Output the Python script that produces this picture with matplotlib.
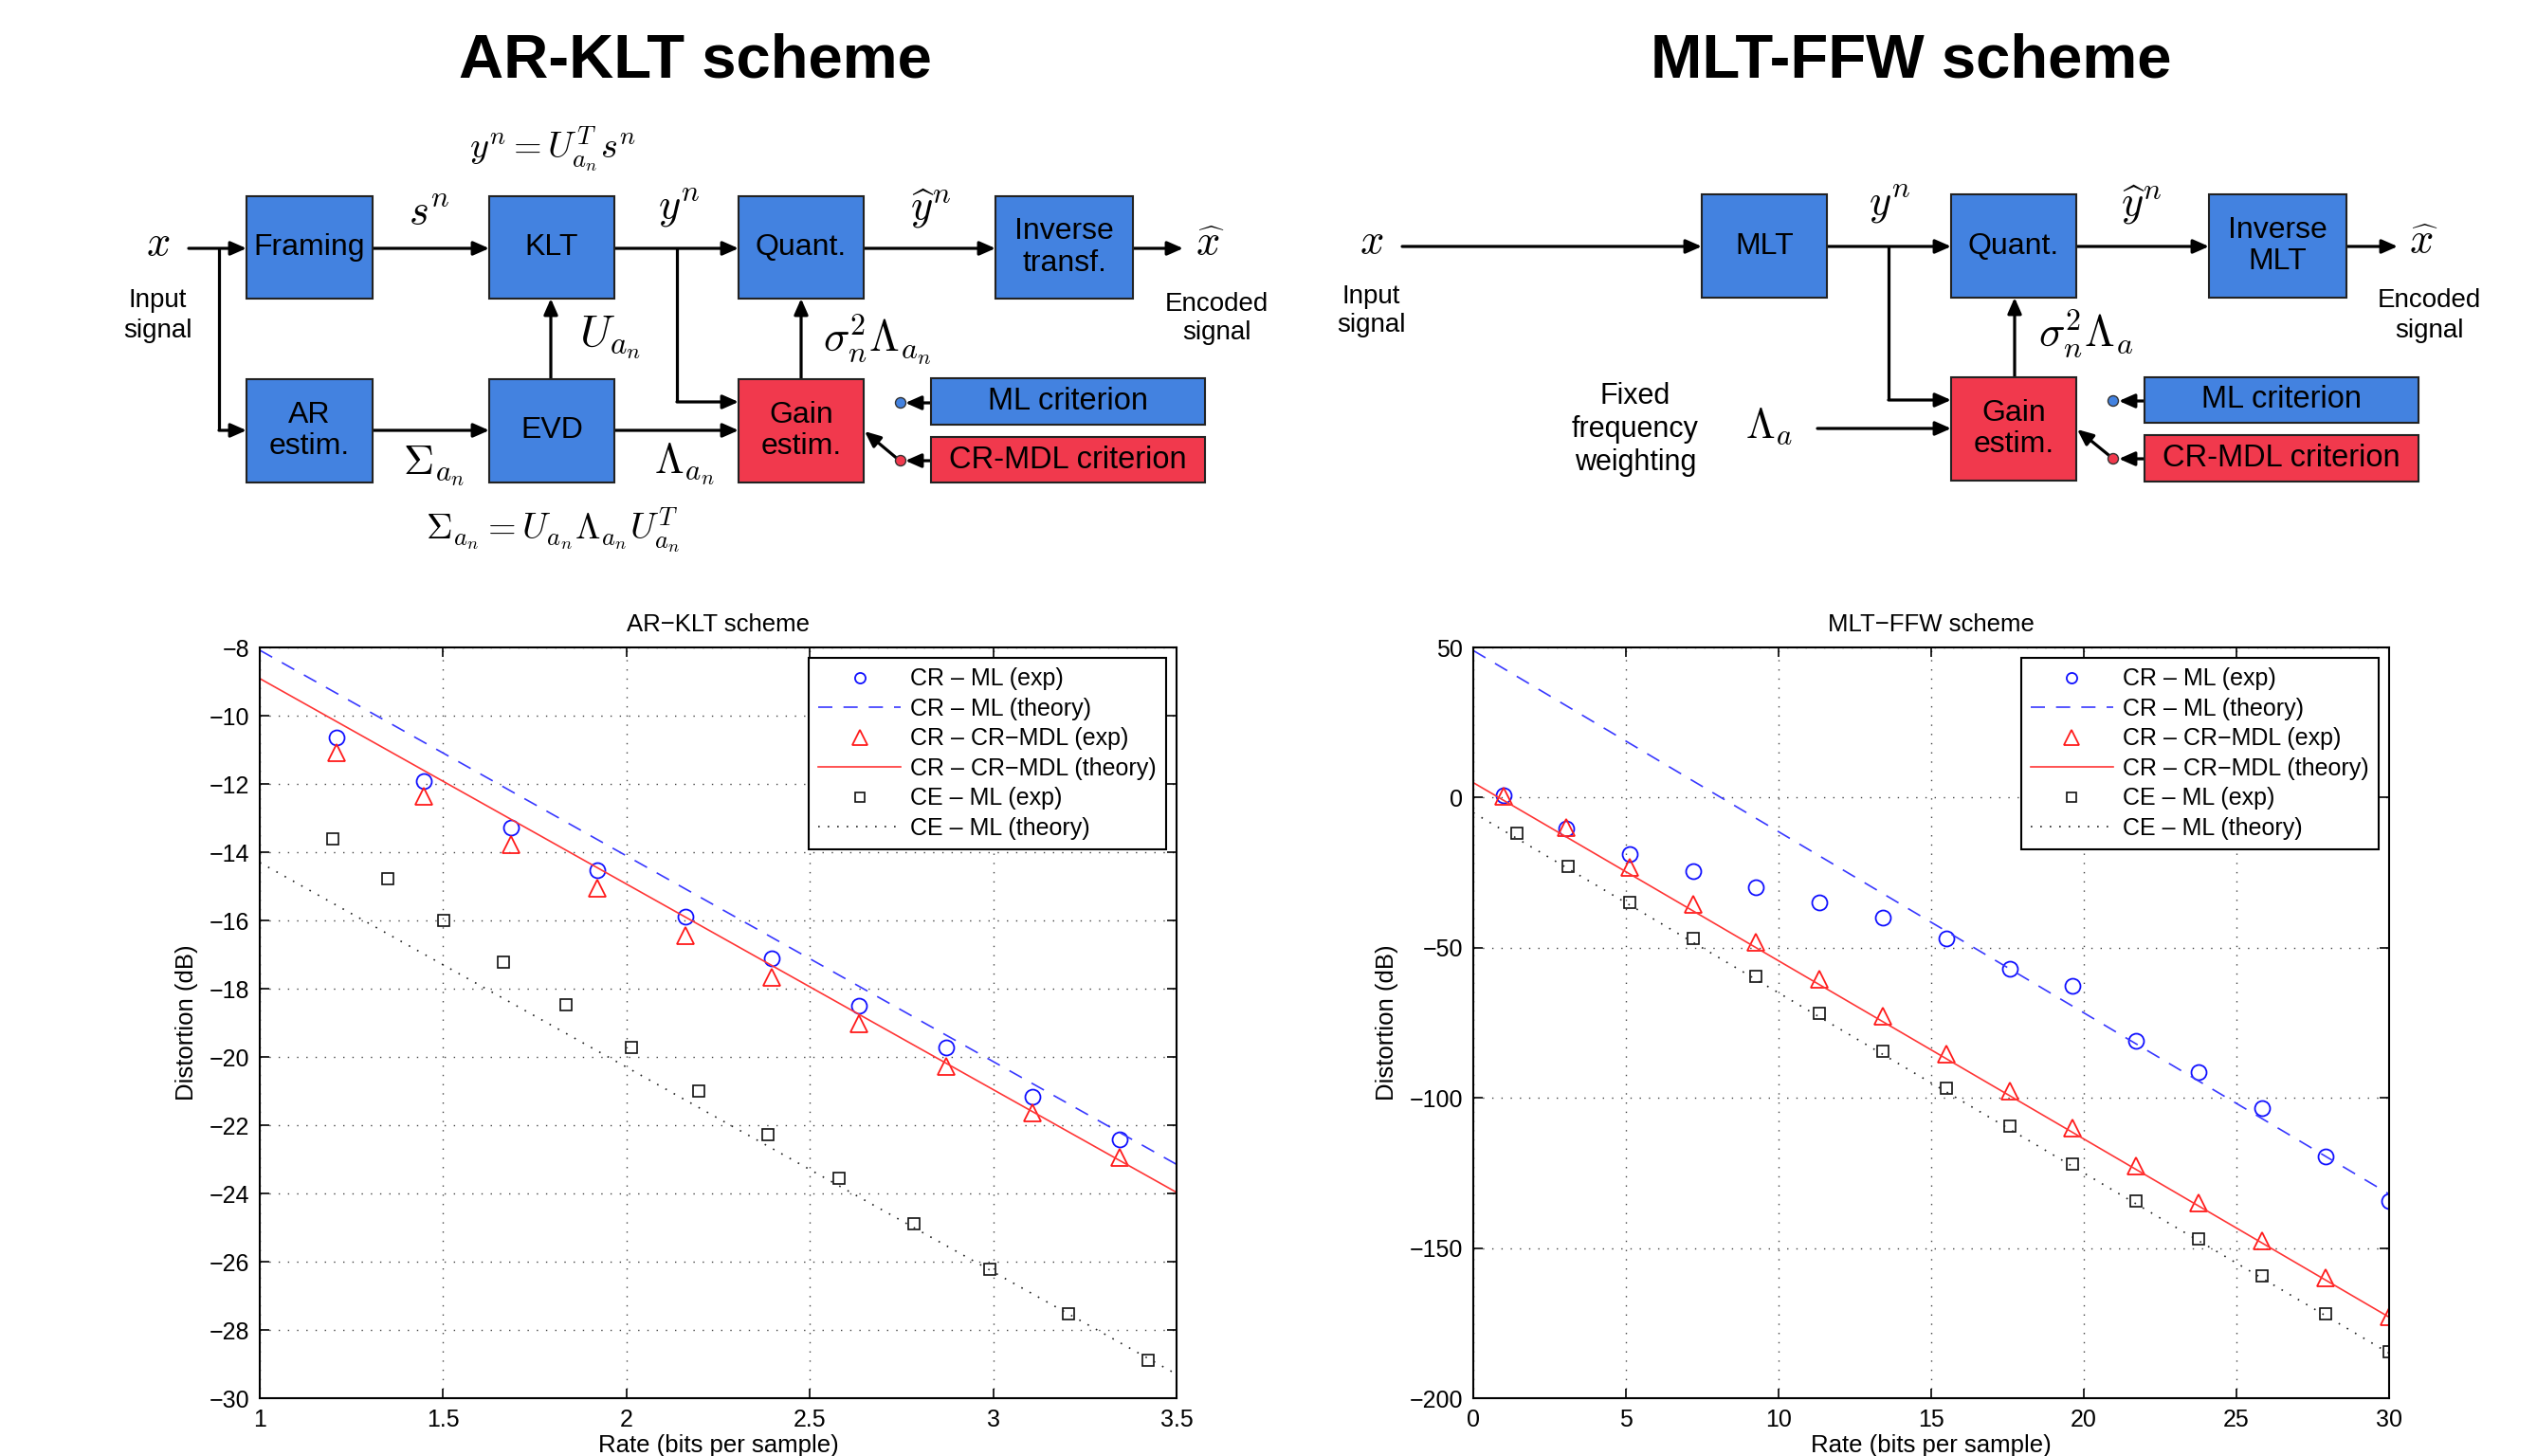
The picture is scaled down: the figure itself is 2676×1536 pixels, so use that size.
import matplotlib
matplotlib.use("Agg")
import matplotlib.pyplot as plt
from matplotlib.patches import Rectangle, Circle
from matplotlib.lines import Line2D
from matplotlib.ticker import FormatStrFormatter

plt.rcParams['font.family'] = ['Liberation Sans', 'DejaVu Sans']
plt.rcParams['mathtext.fontset'] = 'cm'

# ---- data ----
# AR-KLT scheme
klt_rate_cr = [1.21, 1.447, 1.684, 1.921, 2.16, 2.397, 2.634, 2.871, 3.108, 3.345]
klt_crml_exp = [-10.65, -11.91, -13.28, -14.54, -15.89, -17.10, -18.49, -19.73, -21.17, -22.41]
klt_crmdl_exp = [-11.08, -12.37, -13.77, -15.05, -16.45, -17.66, -19.03, -20.28, -21.64, -22.93]
klt_rate_ce = [1.20, 1.348, 1.502, 1.665, 1.834, 2.012, 2.197, 2.385, 2.58, 2.784, 2.99, 3.206, 3.421]
klt_ceml_exp = [-13.60, -14.78, -15.99, -17.23, -18.48, -19.72, -20.99, -22.27, -23.56, -24.88, -26.21, -27.53, -28.89]
klt_rate_th = [1.0, 3.5]
klt_crml_th = [-8.08, -23.15]
klt_crmdl_th = [-8.91, -23.97]
klt_ceml_th = [-14.3, -29.3]

# MLT-FFW scheme
mlt_rate_cr = [0.98, 3.05, 5.12, 7.2, 9.27, 11.34, 13.43, 15.5, 17.57, 19.64, 21.7, 23.77, 25.84, 27.91, 30.0]
mlt_crml_exp = [0.7, -10.3, -18.8, -24.6, -29.7, -34.8, -39.9, -47.0, -57.0, -62.7, -81.0, -91.3, -103.4, -119.6, -134.2]
mlt_crmdl_exp = [0.5, -10.0, -23.3, -35.5, -48.0, -60.5, -72.8, -85.3, -97.6, -110.0, -122.6, -135.0, -147.5, -160.0, -172.8]
mlt_rate_ce = [1.44, 3.11, 5.14, 7.2, 9.27, 11.34, 13.43, 15.5, 17.57, 19.64, 21.7, 23.77, 25.84, 27.91, 30.0]
mlt_ceml_exp = [-12.0, -22.8, -34.8, -47.0, -59.4, -71.9, -84.4, -96.9, -109.4, -121.9, -134.4, -146.9, -159.4, -171.9, -184.4]
mlt_rate_th = [0.0, 30.0]
mlt_crml_th = [49.0, -132.0]
mlt_crmdl_th = [5.0, -173.0]
mlt_ceml_th = [-5.0, -185.0]

legend_labels = ['CR \u2013 ML (exp)', 'CR \u2013 ML (theory)',
                 'CR \u2013 CR\u2212MDL (exp)', 'CR \u2013 CR\u2212MDL (theory)',
                 'CE \u2013 ML (exp)', 'CE \u2013 ML (theory)']

BLUE = '#4382e0'
RED = '#f1394d'
C_BLUE = '#1010ff'
C_BLUE_L = '#3838ff'
C_RED = '#ff1a1a'
C_RED_L = '#ff3535'
C_BLACK = '#111111'

fig = plt.figure(figsize=(26.76, 15.36), dpi=100)

# ---- block diagrams, drawn in pixel coordinates ----
dg = fig.add_axes([0, 0, 1, 1])
dg.set_xlim(0, 2676)
dg.set_ylim(1536, 0)
dg.axis('off')


def box(x0, x1, y0, y1, color, text, fs=23):
    dg.add_patch(Rectangle((x0, y0), x1 - x0, y1 - y0, facecolor=color,
                           edgecolor='#222222', lw=1.5, zorder=2))
    dg.text((x0 + x1) / 2, (y0 + y1) / 2, text, ha='center', va='center',
            fontsize=fs, linespacing=1.15, zorder=3)


def arrow(pts, lw=2.3):
    if len(pts) > 2:
        xs = [p[0] for p in pts[:-1]]
        ys = [p[1] for p in pts[:-1]]
        dg.plot(xs, ys, color='black', lw=lw, solid_capstyle='butt', zorder=1)
    dg.annotate('', xy=pts[-1], xytext=pts[-2],
                arrowprops=dict(arrowstyle='-|>,head_length=0.5,head_width=0.22',
                                lw=lw, color='black', mutation_scale=20,
                                shrinkA=0, shrinkB=0), zorder=1)


def dot(x, y, color):
    dg.add_patch(Circle((x, y), 5.5, facecolor=color, edgecolor='#333333', lw=1, zorder=3))


def math(x, y, s, fs=32):
    dg.text(x, y, s, ha='center', va='center', fontsize=fs)


# titles
dg.text(733, 65, 'AR-KLT scheme', ha='center', va='center', fontsize=47, fontweight='bold')
dg.text(2016, 65, 'MLT-FFW scheme', ha='center', va='center', fontsize=47, fontweight='bold')

# left diagram
box(260, 393, 207, 315, BLUE, 'Framing')
box(516, 648, 207, 315, BLUE, 'KLT')
box(779, 911, 207, 315, BLUE, 'Quant.')
box(1050, 1195, 207, 315, BLUE, 'Inverse\ntransf.')
box(260, 393, 400, 509, BLUE, 'AR\nestim.')
box(516, 648, 400, 509, BLUE, 'EVD')
box(779, 911, 400, 509, RED, 'Gain\nestim.')
box(982, 1271, 399, 448, BLUE, 'ML criterion', fs=23.5)
box(982, 1271, 461, 509, RED, 'CR-MDL criterion', fs=23.5)

arrow([(199, 262), (260, 262)])
arrow([(231, 262), (231, 454), (260, 454)])
arrow([(393, 262), (516, 262)])
arrow([(648, 262), (779, 262)])
arrow([(714, 262), (714, 424), (779, 424)])
arrow([(911, 262), (1050, 262)])
arrow([(1195, 262), (1248, 262)])
arrow([(393, 454), (516, 454)])
arrow([(648, 454), (779, 454)])
arrow([(581, 400), (581, 315)])
arrow([(845, 400), (845, 315)])
arrow([(982, 425), (955, 425)])
arrow([(982, 486), (955, 486)])
arrow([(949, 486), (912, 455)])
dot(950, 425, BLUE)
dot(950, 486, RED)

math(167, 258, r'$x$')
dg.text(166, 333, 'Input\nsignal', ha='center', va='center', fontsize=20, linespacing=1.25)
math(453, 226, r'$s^n$')
math(583, 158, r'$y^n = U_{a_n}^T s^n$', fs=27.5)
math(716, 220, r'$y^n$')
math(982, 220, r'$\widehat{y}^n$')
math(1276, 258, r'$\widehat{x}$')
dg.text(1283, 336, 'Encoded\nsignal', ha='center', va='center', fontsize=20, linespacing=1.25)
math(644, 356, r'$U_{a_n}$', fs=34)
math(925, 358, r'$\sigma_n^2\Lambda_{a_n}$', fs=33)
math(458, 492, r'$\Sigma_{a_n}$')
math(722, 490, r'$\Lambda_{a_n}$')
math(583, 560, r'$\Sigma_{a_n} = U_{a_n}\Lambda_{a_n}U_{a_n}^T$', fs=27.5)

# right diagram
box(1795, 1927, 205, 314, BLUE, 'MLT')
box(2058, 2190, 205, 314, BLUE, 'Quant.')
box(2330, 2475, 205, 314, BLUE, 'Inverse\nMLT')
box(2058, 2190, 398, 507, RED, 'Gain\nestim.')
box(2262, 2551, 398, 446, BLUE, 'ML criterion', fs=23.5)
box(2262, 2551, 459, 508, RED, 'CR-MDL criterion', fs=23.5)

arrow([(1479, 260), (1795, 260)])
arrow([(1927, 260), (2058, 260)])
arrow([(1992, 260), (1992, 422), (2058, 422)])
arrow([(2190, 260), (2330, 260)])
arrow([(2475, 260), (2529, 260)])
arrow([(1917, 452), (2058, 452)])
arrow([(2125, 398), (2125, 314)])
arrow([(2262, 423), (2235, 423)])
arrow([(2262, 484), (2235, 484)])
arrow([(2229, 484), (2191, 453)])
dot(2229, 423, BLUE)
dot(2229, 484, RED)

math(1447, 256, r'$x$')
dg.text(1446, 328, 'Input\nsignal', ha='center', va='center', fontsize=20, linespacing=1.25)
math(1993, 216, r'$y^n$')
math(2259, 216, r'$\widehat{y}^n$')
math(2556, 256, r'$\widehat{x}$')
dg.text(2562, 333, 'Encoded\nsignal', ha='center', va='center', fontsize=20, linespacing=1.25)
math(2200, 352, r'$\sigma_n^2\Lambda_a$', fs=33)
dg.text(1725, 453, 'Fixed\nfrequency\nweighting', ha='center', va='center', fontsize=22, linespacing=1.2)
math(1866, 450, r'$\Lambda_a$')

# legend handles (legend markers are a bit smaller than the plotted ones)
handles = [
    Line2D([], [], ls='none', marker='o', mfc='none', mec=C_BLUE, mew=1.3, ms=8),
    Line2D([], [], color=C_BLUE_L, lw=1.2, dashes=(9, 7)),
    Line2D([], [], ls='none', marker='^', mfc='none', mec=C_RED, mew=1.3, ms=12),
    Line2D([], [], color=C_RED_L, lw=1.2),
    Line2D([], [], ls='none', marker='s', mfc='none', mec=C_BLACK, mew=1.2, ms=7.5),
    Line2D([], [], color='#222222', lw=1.2, dashes=(1, 5)),
]


# ---- result plots ----
def panel(rect, title, rate_cr, crml, crmdl, rate_ce, ceml, rate_th, crml_th, crmdl_th, ceml_th,
          xlim, ylim, xticks, yticks):
    ax = fig.add_axes(rect)
    ax.plot(rate_cr, crml, 'o', mfc='none', mec=C_BLUE, mew=1.3, ms=11.5, ls='none')
    ax.plot(rate_th, crml_th, color=C_BLUE_L, lw=1.2, dashes=(9, 7))
    ax.plot(rate_cr, crmdl, '^', mfc='none', mec=C_RED, mew=1.3, ms=13, ls='none')
    ax.plot(rate_th, crmdl_th, color=C_RED_L, lw=1.2)
    ax.plot(rate_ce, ceml, 's', mfc='none', mec=C_BLACK, mew=1.2, ms=9, ls='none')
    ax.plot(rate_th, ceml_th, color='#222222', lw=1.2, dashes=(1, 5))
    ax.set_xlim(*xlim)
    ax.set_ylim(*ylim)
    ax.set_xticks(xticks)
    ax.set_yticks(yticks)
    ax.xaxis.set_major_formatter(FormatStrFormatter('%g'))
    ax.grid(True, color='#444444', lw=1.0, dashes=(1, 6))
    ax.tick_params(direction='in', length=7, width=1.2, labelsize=18, top=True, right=True, pad=8)
    for s in ax.spines.values():
        s.set_linewidth(1.5)
    ax.set_title(title, fontsize=18.5, pad=12)
    ax.set_xlabel('Rate (bits per sample)', fontsize=18.5, labelpad=2)
    ax.set_ylabel('Distortion (dB)', fontsize=18.5, labelpad=8)
    leg = ax.legend(handles, legend_labels, loc='upper right', fontsize=18, handlelength=3.5,
                    labelspacing=0.3, fancybox=False, edgecolor='black', framealpha=1,
                    borderpad=0.4, handletextpad=0.4, borderaxespad=0.45)
    leg.get_frame().set_linewidth(1.5)
    return ax


panel([0.1024, 0.0397, 0.3614, 0.5156], 'AR\u2212KLT scheme',
      klt_rate_cr, klt_crml_exp, klt_crmdl_exp, klt_rate_ce, klt_ceml_exp,
      klt_rate_th, klt_crml_th, klt_crmdl_th, klt_ceml_th,
      (1, 3.5), (-30, -8), [1, 1.5, 2, 2.5, 3, 3.5], list(range(-30, -7, 2)))

panel([0.5807, 0.0397, 0.361, 0.5156], 'MLT\u2212FFW scheme',
      mlt_rate_cr, mlt_crml_exp, mlt_crmdl_exp, mlt_rate_ce, mlt_ceml_exp,
      mlt_rate_th, mlt_crml_th, mlt_crmdl_th, mlt_ceml_th,
      (0, 30), (-200, 50), [0, 5, 10, 15, 20, 25, 30], [-200, -150, -100, -50, 0, 50])

fig.savefig('out.png', dpi=100)
